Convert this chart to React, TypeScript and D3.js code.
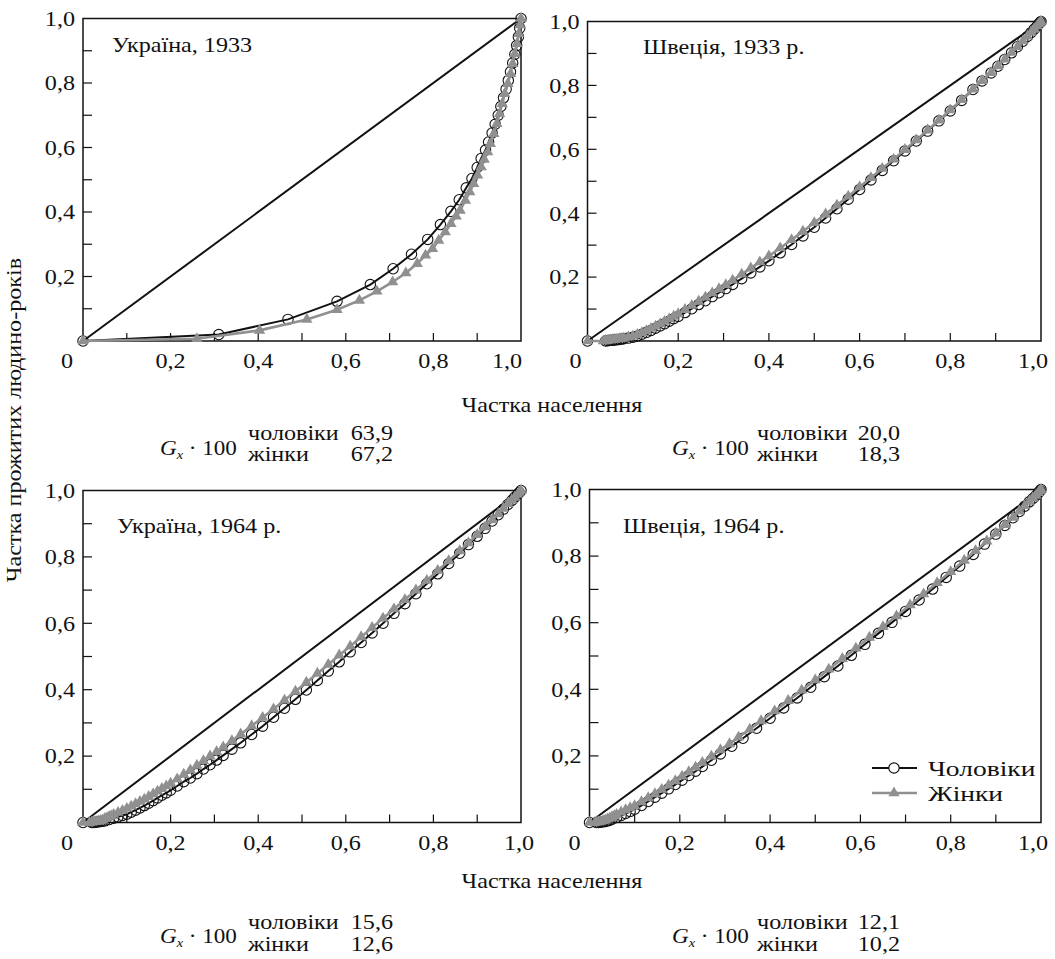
import React from "react";
import * as d3 from "d3";

type P = [number, number];

// ---------- text / labels ----------
const xTickValues = [0, 0.2, 0.4, 0.6, 0.8, 1.0];
const xTickLabels = ["0", "0,2", "0,4", "0,6", "0,8", "1,0"];
const yTickValues = [0.2, 0.4, 0.6, 0.8, 1.0];
const yTickLabels = ["0,2", "0,4", "0,6", "0,8", "1,0"];
const minorTicks = [0.1, 0.2, 0.3, 0.4, 0.5, 0.6, 0.7, 0.8, 0.9];
const panelTitles = ["Україна, 1933", "Швеція, 1933 р.", "Україна, 1964 р.", "Швеція, 1964 р."];
const giniMen = ["63,9", "20,0", "15,6", "12,1"];
const giniWomen = ["67,2", "18,3", "12,6", "10,2"];
const sexLabels = ["чоловіки", "жінки"];
const legendLabels = ["Чоловіки", "Жінки"];
const xAxisTitle = "Частка населення";
const yAxisTitle = "Частка прожитих людино-років";

// ---------- data: [population share, share of person-years] ----------
const ukr1933Men: P[] = [
  [0, 0], [0.31, 0.02], [0.468, 0.067], [0.58, 0.123], [0.656, 0.175], [0.708, 0.224],
  [0.75, 0.269], [0.787, 0.315], [0.816, 0.361], [0.84, 0.402], [0.859, 0.438], [0.875, 0.475],
  [0.888, 0.504], [0.9, 0.538], [0.909, 0.566], [0.919, 0.592], [0.926, 0.617], [0.934, 0.645],
  [0.941, 0.672], [0.948, 0.7], [0.954, 0.727], [0.96, 0.754], [0.966, 0.781], [0.971, 0.808],
  [0.976, 0.835], [0.981, 0.862], [0.986, 0.889], [0.99, 0.916], [0.994, 0.943], [0.997, 0.97], [1, 1],
];
const ukr1933Women: P[] = [
  [0, 0], [0.26, 0.007], [0.403, 0.033], [0.511, 0.067], [0.58, 0.097], [0.631, 0.126],
  [0.671, 0.154], [0.707, 0.183], [0.737, 0.211], [0.763, 0.24], [0.782, 0.266], [0.798, 0.286],
  [0.812, 0.312], [0.827, 0.338], [0.84, 0.364], [0.852, 0.387], [0.861, 0.405], [0.873, 0.436],
  [0.883, 0.462], [0.892, 0.488], [0.901, 0.514], [0.909, 0.54], [0.916, 0.563], [0.924, 0.586],
  [0.93, 0.612], [0.938, 0.643], [0.945, 0.674], [0.951, 0.705], [0.957, 0.736], [0.963, 0.767],
  [0.97, 0.798], [0.976, 0.829], [0.981, 0.86], [0.986, 0.891], [0.991, 0.922], [0.995, 0.953],
  [0.998, 0.98], [1, 1],
];
const swe1933Men: P[] = [
  [0, 0], [0.04, 0], [0.045, 0.001], [0.05, 0.002], [0.055, 0.002], [0.06, 0.003], [0.065, 0.004],
  [0.07, 0.005], [0.075, 0.006], [0.08, 0.007], [0.09, 0.009], [0.1, 0.012], [0.11, 0.016],
  [0.12, 0.021], [0.13, 0.027], [0.14, 0.033], [0.15, 0.04], [0.16, 0.047], [0.17, 0.054],
  [0.18, 0.062], [0.19, 0.07], [0.2, 0.077], [0.215, 0.089], [0.23, 0.101], [0.245, 0.114],
  [0.26, 0.126], [0.275, 0.139], [0.29, 0.151], [0.305, 0.164], [0.32, 0.177], [0.34, 0.195],
  [0.36, 0.213], [0.38, 0.232], [0.4, 0.251], [0.425, 0.276], [0.45, 0.302], [0.475, 0.329],
  [0.5, 0.356], [0.525, 0.385], [0.55, 0.414], [0.575, 0.444], [0.6, 0.474], [0.625, 0.504],
  [0.65, 0.534], [0.675, 0.564], [0.7, 0.595], [0.725, 0.626], [0.75, 0.657], [0.775, 0.689],
  [0.8, 0.72], [0.825, 0.753], [0.85, 0.787], [0.87, 0.814], [0.89, 0.839], [0.905, 0.86],
  [0.92, 0.881], [0.935, 0.902], [0.948, 0.921], [0.96, 0.938], [0.97, 0.953], [0.978, 0.965],
  [0.985, 0.976], [0.991, 0.985], [0.995, 0.992], [0.998, 0.997], [1, 1],
];
const swe1933Women: P[] = [
  [0, 0], [0.035, 0], [0.04, 0.001], [0.045, 0.002], [0.05, 0.003], [0.055, 0.004], [0.06, 0.005],
  [0.065, 0.006], [0.07, 0.007], [0.075, 0.008], [0.08, 0.009], [0.09, 0.012], [0.1, 0.015],
  [0.11, 0.02], [0.12, 0.026], [0.13, 0.032], [0.14, 0.039], [0.15, 0.046], [0.16, 0.053],
  [0.17, 0.061], [0.18, 0.069], [0.19, 0.077], [0.2, 0.085], [0.215, 0.098], [0.23, 0.111],
  [0.245, 0.124], [0.26, 0.137], [0.275, 0.15], [0.29, 0.163], [0.305, 0.176], [0.32, 0.19],
  [0.34, 0.209], [0.36, 0.228], [0.38, 0.247], [0.4, 0.266], [0.425, 0.291], [0.45, 0.317],
  [0.475, 0.343], [0.5, 0.37], [0.525, 0.397], [0.55, 0.425], [0.575, 0.453], [0.6, 0.482],
  [0.625, 0.511], [0.65, 0.54], [0.675, 0.569], [0.7, 0.599], [0.725, 0.629], [0.75, 0.66],
  [0.775, 0.691], [0.8, 0.723], [0.825, 0.755], [0.85, 0.788], [0.87, 0.815], [0.89, 0.84],
  [0.905, 0.861], [0.92, 0.882], [0.935, 0.903], [0.948, 0.921], [0.96, 0.939], [0.97, 0.954],
  [0.978, 0.966], [0.985, 0.977], [0.991, 0.986], [0.995, 0.992], [0.998, 0.997], [1, 1],
];
const ukr1964Men: P[] = [
  [0, 0], [0.02, 0], [0.025, 0], [0.03, 0.001], [0.035, 0.002], [0.04, 0.003], [0.045, 0.004],
  [0.05, 0.005], [0.06, 0.009], [0.07, 0.013], [0.08, 0.017], [0.09, 0.021], [0.1, 0.025],
  [0.11, 0.031], [0.12, 0.037], [0.13, 0.044], [0.14, 0.051], [0.15, 0.058], [0.16, 0.066],
  [0.17, 0.074], [0.18, 0.082], [0.19, 0.089], [0.2, 0.097], [0.215, 0.11], [0.23, 0.123],
  [0.245, 0.134], [0.26, 0.147], [0.275, 0.161], [0.29, 0.174], [0.305, 0.188], [0.32, 0.202],
  [0.34, 0.221], [0.36, 0.24], [0.385, 0.265], [0.41, 0.29], [0.435, 0.317], [0.46, 0.344],
  [0.485, 0.371], [0.51, 0.399], [0.535, 0.428], [0.56, 0.456], [0.585, 0.484], [0.61, 0.514],
  [0.635, 0.542], [0.66, 0.571], [0.685, 0.6], [0.71, 0.63], [0.735, 0.659], [0.76, 0.689],
  [0.785, 0.719], [0.81, 0.749], [0.835, 0.78], [0.86, 0.811], [0.88, 0.837], [0.9, 0.862],
  [0.918, 0.886], [0.934, 0.908], [0.948, 0.927], [0.96, 0.944], [0.97, 0.958], [0.979, 0.97],
  [0.986, 0.98], [0.992, 0.988], [0.996, 0.994], [1, 1],
];
const ukr1964Women: P[] = [
  [0, 0], [0.015, 0], [0.02, 0.001], [0.025, 0.002], [0.03, 0.003], [0.035, 0.004], [0.04, 0.006],
  [0.045, 0.007], [0.05, 0.012], [0.055, 0.014], [0.06, 0.018], [0.065, 0.02], [0.07, 0.024],
  [0.08, 0.03], [0.09, 0.036], [0.1, 0.042], [0.11, 0.049], [0.12, 0.056], [0.13, 0.063],
  [0.14, 0.07], [0.15, 0.078], [0.16, 0.086], [0.17, 0.094], [0.18, 0.102], [0.19, 0.11],
  [0.2, 0.118], [0.215, 0.131], [0.23, 0.145], [0.245, 0.158], [0.26, 0.172], [0.275, 0.186],
  [0.29, 0.2], [0.305, 0.213], [0.32, 0.227], [0.34, 0.246], [0.36, 0.266], [0.385, 0.291],
  [0.41, 0.316], [0.435, 0.342], [0.46, 0.368], [0.485, 0.395], [0.51, 0.422], [0.535, 0.449],
  [0.56, 0.476], [0.585, 0.504], [0.61, 0.531], [0.635, 0.559], [0.66, 0.587], [0.685, 0.615],
  [0.71, 0.643], [0.735, 0.671], [0.76, 0.7], [0.785, 0.729], [0.81, 0.759], [0.835, 0.788],
  [0.86, 0.818], [0.88, 0.842], [0.9, 0.867], [0.918, 0.89], [0.934, 0.911], [0.948, 0.929],
  [0.96, 0.946], [0.97, 0.96], [0.979, 0.971], [0.986, 0.98], [0.992, 0.988], [0.996, 0.994], [1, 1],
];
const swe1964Men: P[] = [
  [0, 0], [0.015, 0], [0.02, 0], [0.025, 0.001], [0.03, 0.002], [0.035, 0.003], [0.04, 0.005],
  [0.045, 0.007], [0.05, 0.01], [0.06, 0.015], [0.07, 0.021], [0.08, 0.027], [0.09, 0.033],
  [0.1, 0.04], [0.115, 0.051], [0.13, 0.063], [0.145, 0.076], [0.16, 0.088], [0.175, 0.101],
  [0.19, 0.114], [0.205, 0.127], [0.22, 0.141], [0.235, 0.154], [0.25, 0.168], [0.27, 0.187],
  [0.29, 0.206], [0.315, 0.229], [0.34, 0.253], [0.37, 0.283], [0.4, 0.313], [0.43, 0.344],
  [0.46, 0.374], [0.49, 0.406], [0.52, 0.438], [0.55, 0.47], [0.58, 0.502], [0.61, 0.535],
  [0.64, 0.568], [0.67, 0.601], [0.7, 0.634], [0.73, 0.668], [0.76, 0.701], [0.79, 0.736],
  [0.82, 0.77], [0.85, 0.805], [0.875, 0.836], [0.9, 0.866], [0.92, 0.892], [0.938, 0.915],
  [0.952, 0.934], [0.964, 0.95], [0.974, 0.963], [0.982, 0.973], [0.989, 0.982], [0.994, 0.99],
  [0.998, 0.996], [1, 1],
];
const swe1964Women: P[] = [
  [0, 0], [0.012, 0], [0.016, 0.001], [0.02, 0.002], [0.025, 0.003], [0.03, 0.005], [0.035, 0.007],
  [0.04, 0.01], [0.045, 0.013], [0.05, 0.017], [0.055, 0.02], [0.06, 0.024], [0.07, 0.031],
  [0.08, 0.038], [0.09, 0.044], [0.1, 0.05], [0.115, 0.062], [0.13, 0.074], [0.145, 0.086],
  [0.16, 0.099], [0.175, 0.112], [0.19, 0.125], [0.205, 0.139], [0.22, 0.152], [0.235, 0.166],
  [0.25, 0.18], [0.27, 0.199], [0.29, 0.218], [0.31, 0.236], [0.33, 0.256], [0.355, 0.28],
  [0.38, 0.305], [0.41, 0.335], [0.44, 0.366], [0.47, 0.397], [0.5, 0.428], [0.53, 0.46],
  [0.56, 0.492], [0.59, 0.523], [0.62, 0.556], [0.65, 0.588], [0.68, 0.62], [0.71, 0.653],
  [0.74, 0.686], [0.77, 0.72], [0.8, 0.753], [0.83, 0.787], [0.855, 0.816], [0.88, 0.845],
  [0.9, 0.869], [0.92, 0.894], [0.938, 0.916], [0.952, 0.935], [0.964, 0.951], [0.974, 0.964],
  [0.982, 0.974], [0.989, 0.983], [0.994, 0.99], [0.998, 0.996], [1, 1],
];

const menSeries = [ukr1933Men, swe1933Men, ukr1964Men, swe1964Men];
const womenSeries = [ukr1933Women, swe1933Women, ukr1964Women, swe1964Women];

// ---------- layout ----------
const panels = [
  { left: 83, right: 521, top: 18.5, bottom: 341, tx: 112, ty: 52, zeroDx: -16, oneDx: -14, gX: 160, labX: 248, numR: 393, gRow: 0 },
  { left: 587.5, right: 1041, top: 21.5, bottom: 341, tx: 643, ty: 54, zeroDx: -12, oneDx: -8, gX: 672, labX: 757, numR: 900, gRow: 0 },
  { left: 83, right: 521, top: 490.5, bottom: 822.5, tx: 117, ty: 533, zeroDx: -16, oneDx: -2, gX: 160, labX: 248, numR: 393, gRow: 1 },
  { left: 589.5, right: 1041, top: 489.5, bottom: 822.5, tx: 623, ty: 533, zeroDx: -15, oneDx: -8, gX: 672, labX: 757, numR: 900, gRow: 1 },
];
const giniRows = [
  { men: 440, women: 461, g: 455 },
  { men: 929, women: 951, g: 943 },
];
const axisTitleRows = [412, 888];

const FONT = "'Liberation Serif', 'Times New Roman', serif";
const SX = 1.15;
const GRAY = "#909090";

function T(props: {
  x: number; y: number; anchor?: string; size?: number; rotate?: number; sx?: number;
  children: React.ReactNode; dy?: string; italic?: boolean;
}) {
  const { x, y, anchor = "start", size = 21, rotate, sx = SX, children, dy, italic } = props;
  return (
    <text
      transform={`translate(${x},${y})${rotate ? ` rotate(${rotate})` : ""} scale(${sx},1)`}
      textAnchor={anchor as any}
      fontSize={size}
      fontFamily={FONT}
      fontStyle={italic ? "italic" : "normal"}
      dy={dy}
      fill="#111"
    >
      {children}
    </text>
  );
}

const triPath = d3.symbol().type(d3.symbolTriangle).size(56)() as string;

function Panel({ i }: { i: number }) {
  const p = panels[i];
  const x = d3.scaleLinear().domain([0, 1]).range([p.left, p.right]);
  const y = d3.scaleLinear().domain([0, 1]).range([p.bottom, p.top]);
  const line = d3.line<P>().x((d) => x(d[0])).y((d) => y(d[1]));
  const men = menSeries[i];
  const women = womenSeries[i];
  const gr = giniRows[p.gRow];
  return (
    <g>
      <rect x={p.left} y={p.top} width={p.right - p.left} height={p.bottom - p.top} fill="white" stroke="#111" strokeWidth={1.5} />
      {minorTicks.map((t) => (
        <line key={"xt" + t} x1={x(t)} x2={x(t)} y1={p.bottom} y2={p.bottom - 8} stroke="#111" strokeWidth={1.2} />
      ))}
      {minorTicks.map((t) => (
        <line key={"yt" + t} x1={p.left} x2={p.left + 9} y1={y(t)} y2={y(t)} stroke="#111" strokeWidth={1.2} />
      ))}
      {xTickValues.map((v, k) => {
        const dx = v === 0 ? p.zeroDx : v === 1 ? p.oneDx : 0;
        return (
          <T key={"xl" + k} x={x(v) + dx} y={p.bottom + 27} anchor="middle">
            {xTickLabels[k]}
          </T>
        );
      })}
      {yTickValues.map((v, k) => (
        <T key={"yl" + k} x={p.left - 8} y={y(v)} anchor="end" dy="0.35em">
          {yTickLabels[k]}
        </T>
      ))}
      <path d={line([[0, 0], [1, 1]]) as string} fill="none" stroke="#111" strokeWidth={2} />
      <path d={line(men) as string} fill="none" stroke="#111" strokeWidth={2} />
      {men.map((d, k) => (
        <circle key={"m" + k} cx={x(d[0])} cy={y(d[1])} r={5.2} fill="none" stroke="#111" strokeWidth={1.1} />
      ))}
      <path d={line(women) as string} fill="none" stroke={GRAY} strokeWidth={2.6} />
      {women.map((d, k) => (
        <path key={"w" + k} d={triPath} transform={`translate(${x(d[0])},${y(d[1])})`} fill={GRAY} />
      ))}
      <T x={p.tx} y={p.ty} size={21}>{panelTitles[i]}</T>
      <text transform={`translate(${p.gX},${gr.g}) scale(1.1,1)`} fontFamily={FONT} fontSize={21} fill="#111">
        <tspan fontStyle="italic">G</tspan>
        <tspan fontStyle="italic" fontSize={13} dy={4}>x</tspan>
        <tspan dy={-4}>{" · 100"}</tspan>
      </text>
      <T x={p.labX} y={gr.men}>{sexLabels[0]}</T>
      <T x={p.labX} y={gr.women}>{sexLabels[1]}</T>
      <T x={p.numR} y={gr.men} anchor="end">{giniMen[i]}</T>
      <T x={p.numR} y={gr.women} anchor="end">{giniWomen[i]}</T>
    </g>
  );
}

export default function App() {
  return (
    <svg
      width={1055}
      height={959}
      viewBox="0 0 1055 959"
      style={{ position: "absolute", left: 0, top: 0, background: "white" }}
    >
      <rect x={0} y={0} width={1055} height={959} fill="white" />
      {panels.map((_, i) => (
        <Panel key={i} i={i} />
      ))}
      {axisTitleRows.map((yy, k) => (
        <T key={"at" + k} x={552} y={yy} anchor="middle">{xAxisTitle}</T>
      ))}
      <T x={21} y={420} anchor="middle" rotate={-90}>{yAxisTitle}</T>
      <g>
        <line x1={872} x2={917} y1={768} y2={768} stroke="#111" strokeWidth={2} />
        <circle cx={894} cy={768} r={5.2} fill="white" stroke="#111" strokeWidth={1.2} />
        <line x1={872} x2={917} y1={793} y2={793} stroke={GRAY} strokeWidth={2.6} />
        <path d={triPath} transform="translate(894,793)" fill={GRAY} />
        <T x={928} y={776} size={22} sx={1.25}>{legendLabels[0]}</T>
        <T x={928} y={801} size={22} sx={1.25}>{legendLabels[1]}</T>
      </g>
    </svg>
  );
}
